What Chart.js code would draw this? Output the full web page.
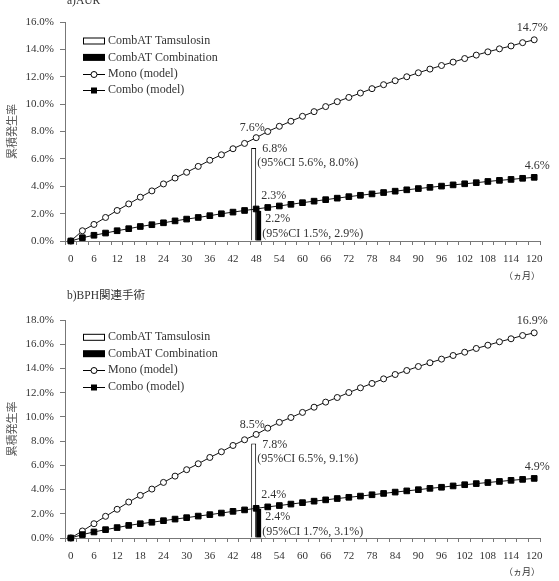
<!DOCTYPE html>
<html>
<head>
<meta charset="utf-8">
<script src="https://cdn.jsdelivr.net/npm/chart.js@4.4.1/dist/chart.umd.min.js"></script>
<style>
    html, body { margin: 0; padding: 0; background: #fff; }
    #wrap { position: relative; width: 559px; height: 581px; overflow: hidden; }
    .box { position: absolute; left: 0; width: 559px; }
    #boxA { top: 0; height: 285px; }
    #boxB { top: 285px; height: 296px; }
</style>
</head>
<body>
<div id="wrap">
    <div class="box" id="boxA"><canvas id="chartA" width="559" height="285"></canvas></div>
    <div class="box" id="boxB"><canvas id="chartB" width="559" height="296"></canvas></div>
</div>
<script>
// =================================================================
// 累積発生率 (AUR / BPH関連手術) - モデル vs CombAT
// =================================================================

// Eixo X (meses, a cada 3)
const months = [0, 3, 6, 9, 12, 15, 18, 21, 24, 27, 30, 33, 36, 39, 42, 45, 48, 51, 54, 57, 60,
    63, 66, 69, 72, 75, 78, 81, 84, 87, 90, 93, 96, 99, 102, 105, 108, 111, 114, 117, 120];

// a) AUR
const monoAUR = [0, 0.75, 1.21, 1.72, 2.23, 2.71, 3.2, 3.66, 4.17, 4.6, 5.02, 5.45, 5.9, 6.3, 6.74, 7.13, 7.55,
    8.0, 8.38, 8.75, 9.11, 9.45, 9.82, 10.18, 10.49, 10.81, 11.13, 11.42, 11.71, 12.0, 12.29, 12.56, 12.82,
    13.07, 13.33, 13.58, 13.82, 14.04, 14.25, 14.49, 14.7];
const comboAUR = [0, 0.24, 0.42, 0.58, 0.75, 0.9, 1.06, 1.19, 1.33, 1.47, 1.6, 1.72, 1.85, 1.99, 2.11, 2.23, 2.34,
    2.45, 2.56, 2.68, 2.8, 2.91, 3.02, 3.13, 3.24, 3.34, 3.44, 3.54, 3.64, 3.74, 3.83, 3.92, 4.01,
    4.1, 4.18, 4.26, 4.35, 4.43, 4.5, 4.58, 4.65];
const combatAUR = [6.8, 2.2]; // Tamsulosin, Combination (48ヵ月)
const ciAUR = ['(95%CI 5.6%, 8.0%)', '(95%CI 1.5%, 2.9%)'];
const modelLabelsAUR = ['7.6%', '2.3%', '14.7%', '4.6%'];

// b) BPH関連手術
const monoBPH = [0, 0.58, 1.18, 1.79, 2.37, 2.97, 3.52, 4.04, 4.59, 5.11, 5.64, 6.13, 6.65, 7.12, 7.64, 8.11, 8.55,
    9.07, 9.55, 9.95, 10.37, 10.8, 11.22, 11.6, 12.01, 12.4, 12.76, 13.14, 13.5, 13.83, 14.16, 14.47, 14.77,
    15.07, 15.34, 15.65, 15.92, 16.2, 16.45, 16.72, 16.94];
const comboBPH = [0, 0.28, 0.5, 0.69, 0.86, 1.04, 1.18, 1.3, 1.43, 1.56, 1.68, 1.81, 1.93, 2.06, 2.2, 2.32, 2.45,
    2.57, 2.68, 2.8, 2.92, 3.04, 3.15, 3.26, 3.36, 3.46, 3.57, 3.68, 3.79, 3.89, 3.99, 4.1, 4.19,
    4.3, 4.4, 4.49, 4.58, 4.67, 4.76, 4.84, 4.92];
const combatBPH = [7.8, 2.4];
const ciBPH = ['(95%CI 6.5%, 9.1%)', '(95%CI 1.7%, 3.1%)'];
const modelLabelsBPH = ['8.5%', '2.4%', '16.9%', '4.9%'];

const barMonth = 48;
const legendNames = ['CombAT Tamsulosin', 'CombAT Combination', 'Mono (model)', 'Combo (model)'];

const SERIF = "'Liberation Serif', 'Noto Sans CJK JP', serif";
const TXT = '#333';

// Desenha textos (rótulos, legenda, título) sobre o gráfico
function textosPlugin(cfg) {
    return {
        id: 'textos_' + cfg.id,
        afterDraw(chart) {
            const ctx = chart.ctx;
            const xs = chart.scales.x, ys = chart.scales.y;
            const i48 = months.indexOf(barMonth);
            const iEnd = months.length - 1;
            const x48 = xs.getPixelForValue(i48);
            const xEnd = xs.getPixelForValue(iEnd);
            const barT = chart.getDatasetMeta(0).data[i48];
            const barC = chart.getDatasetMeta(1).data[i48];

            ctx.save();
            ctx.fillStyle = TXT;
            ctx.font = '12px ' + SERIF;
            ctx.textBaseline = 'middle';

            // rótulos do modelo
            ctx.textAlign = 'center';
            ctx.fillText(cfg.modelLabels[0], x48 - 4, ys.getPixelForValue(cfg.mono[i48]) - 10);
            ctx.fillText(cfg.modelLabels[2], xEnd - 2, ys.getPixelForValue(cfg.mono[iEnd]) - 12);
            ctx.fillText(cfg.modelLabels[3], xEnd + 3, ys.getPixelForValue(cfg.combo[iEnd]) - 12);
            ctx.textAlign = 'left';
            ctx.fillText(cfg.modelLabels[1], x48 + 5, ys.getPixelForValue(cfg.combo[i48]) - 13);

            // rótulos CombAT
            ctx.fillText(cfg.combat[0].toFixed(1) + '%', x48 + 6, barT.y + 1);
            ctx.fillText(cfg.ci[0], x48 + 1, barT.y + 15);
            ctx.fillText(cfg.combat[1].toFixed(1) + '%', x48 + 9, barC.y + 8);
            ctx.fillText(cfg.ci[1], x48 + 6, barC.y + 23);

            // título
            ctx.font = '11.5px ' + SERIF;
            ctx.textBaseline = 'alphabetic';
            ctx.fillText(cfg.title, 67, cfg.titleY);

            // legenda
            ctx.font = '12px ' + SERIF;
            ctx.textBaseline = 'middle';
            legendNames.forEach((nome, k) => {
                const y = cfg.legendY + k * 16.4;
                ctx.strokeStyle = '#000';
                ctx.lineWidth = 1;
                if (k === 0) {
                    ctx.fillStyle = '#fff';
                    ctx.fillRect(83.5, y - 3, 21, 6);
                    ctx.strokeRect(83.5, y - 3, 21, 6);
                } else if (k === 1) {
                    ctx.fillStyle = '#000';
                    ctx.fillRect(83, y - 3.5, 22, 7);
                } else {
                    ctx.beginPath();
                    ctx.moveTo(83, Math.round(y) + 0.5);
                    ctx.lineTo(105, Math.round(y) + 0.5);
                    ctx.stroke();
                    if (k === 2) {
                        ctx.fillStyle = '#fff';
                        ctx.beginPath();
                        ctx.arc(94, Math.round(y) + 0.5, 3, 0, Math.PI * 2);
                        ctx.fill();
                        ctx.stroke();
                    } else {
                        ctx.fillStyle = '#000';
                        ctx.fillRect(91, Math.round(y) - 2.5, 6, 6);
                    }
                }
                ctx.fillStyle = TXT;
                ctx.fillText(nome, 108, y);
            });
            ctx.restore();
        }
    };
}

function criarGrafico(cfg) {
    const soNoMes = v => months.map(m => (m === barMonth ? v : null));
    return new Chart(document.getElementById(cfg.id), {
        type: 'bar',
        data: {
            labels: months.map(String),
            datasets: [
                {
                    label: legendNames[0], data: soNoMes(cfg.combat[0]), order: 2,
                    backgroundColor: '#fff', borderColor: '#000', borderWidth: 1,
                    categoryPercentage: 0.86, barPercentage: 1
                },
                {
                    label: legendNames[1], data: soNoMes(cfg.combat[1]), order: 2,
                    backgroundColor: '#000', borderColor: '#000', borderWidth: 0,
                    categoryPercentage: 0.86, barPercentage: 1
                },
                {
                    type: 'line', label: legendNames[2], data: cfg.mono, order: 1, clip: false,
                    borderColor: '#111', borderWidth: 1, tension: 0,
                    pointStyle: 'circle', pointRadius: 3, pointBackgroundColor: '#fff',
                    pointBorderColor: '#111', pointBorderWidth: 1
                },
                {
                    type: 'line', label: legendNames[3], data: cfg.combo, order: 0, clip: false,
                    borderColor: '#111', borderWidth: 1, tension: 0,
                    pointStyle: 'rect', pointRadius: 4, pointBackgroundColor: '#000',
                    pointBorderColor: '#000', pointBorderWidth: 1
                }
            ]
        },
        options: {
            responsive: false,
            animation: false,
            layout: { padding: { top: cfg.padTop, right: 19, left: 0, bottom: 0 } },
            plugins: { legend: { display: false }, tooltip: { enabled: false } },
            scales: {
                x: {
                    offset: true,
                    grid: { offset: true, drawOnChartArea: false, tickLength: 4, color: '#777' },
                    border: { color: '#777' },
                    ticks: {
                        autoSkip: false, maxRotation: 0, padding: 8, color: TXT,
                        font: { family: SERIF, size: 11 },
                        callback: (v, i) => (months[i] % 6 === 0 ? String(months[i]) : '')
                    },
                    title: {
                        display: true, text: '（ヵ月）', align: 'end', color: TXT,
                        font: { family: "'Noto Sans CJK JP', sans-serif", size: 9 },
                        padding: { top: 2, bottom: 4 }
                    },
                    afterFit: s => { s.height = cfg.xHeight; }
                },
                y: {
                    min: 0, max: cfg.yMax,
                    grid: { drawOnChartArea: false, tickLength: 5, color: '#777' },
                    border: { color: '#777' },
                    ticks: {
                        stepSize: 2, padding: 6, color: TXT,
                        font: { family: SERIF, size: 11 },
                        callback: v => v.toFixed(1) + '%'
                    },
                    title: {
                        display: true, text: '累積発生率', color: '#555',
                        font: { family: "'Noto Sans CJK JP', sans-serif", size: 11 },
                        padding: { top: 5, bottom: 4 }
                    },
                    afterFit: s => { s.width = 65; }
                }
            }
        },
        plugins: [textosPlugin(cfg)]
    });
}

criarGrafico({
    id: 'chartA', title: 'a)AUR', titleY: 4, legendY: 41, padTop: 22, xHeight: 44, yMax: 16,
    mono: monoAUR, combo: comboAUR, combat: combatAUR, ci: ciAUR, modelLabels: modelLabelsAUR
});
criarGrafico({
    id: 'chartB', title: 'b)BPH関連手術', titleY: 14, legendY: 52.3, padTop: 35, xHeight: 43, yMax: 18,
    mono: monoBPH, combo: comboBPH, combat: combatBPH, ci: ciBPH, modelLabels: modelLabelsBPH
});
</script>
</body>
</html>
